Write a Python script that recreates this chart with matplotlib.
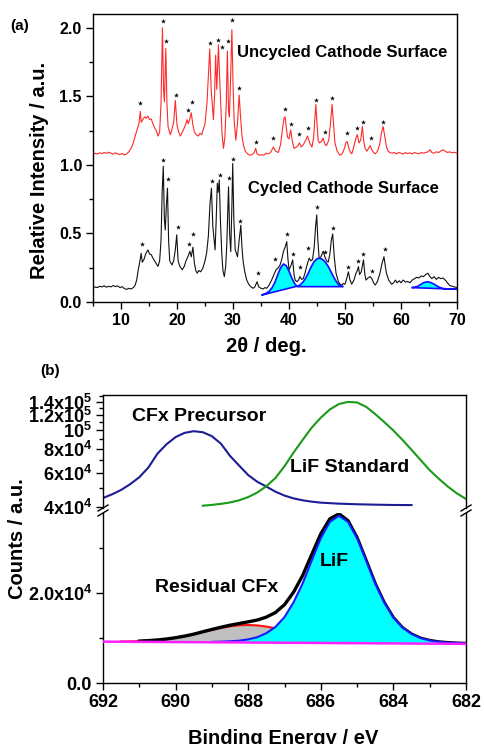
import numpy as np
import matplotlib
matplotlib.use('Agg')
import matplotlib.pyplot as plt
from matplotlib.lines import Line2D
from matplotlib.ticker import FixedLocator, FixedFormatter, NullFormatter

# ---------------- DATA : panel (a) XRD ----------------
tt_uncycled = [5.0, 5.4, 5.8, 6.2, 6.6, 7.0, 7.4, 7.8, 8.2, 8.6, 9.0, 9.4, 9.8, 10.2, 10.6, 11.0, 11.4, 11.8,
               12.2, 12.6, 12.9, 13.2, 13.45, 13.6, 13.9, 14.2, 14.5, 14.8, 15.1, 15.4, 15.7, 16.0, 16.3, 16.6,
               16.9, 17.15, 17.4, 17.6, 17.75, 18.0, 18.2, 18.4, 18.6, 18.8, 19.1, 19.4, 19.7, 20.0, 20.3, 20.6,
               20.9, 21.2, 21.5, 21.8, 22.0, 22.2, 22.55, 22.8, 23.1, 23.45, 23.8, 24.1, 24.4, 24.7, 25.0, 25.35,
               25.6, 25.85, 26.1, 26.5, 26.7, 26.9, 27.1, 27.4, 27.6, 27.8, 28.05, 28.3, 28.55, 28.8, 29.0, 29.2,
               29.35, 29.55, 29.8, 30.0, 30.2, 30.5, 30.8, 31.1, 31.35, 31.6, 31.9, 32.2, 32.6, 33.0, 33.4, 33.8,
               34.05, 34.3, 34.7, 35.1, 35.5, 35.9, 36.3, 36.7, 37.2, 37.6, 38.1, 38.5, 38.8, 39.1, 39.3, 39.55,
               39.75, 40.0, 40.3, 40.6, 40.9, 41.3, 41.6, 41.85, 42.2, 42.6, 43.0, 43.3, 43.7, 44.1, 44.4, 44.6,
               44.8, 45.0, 45.2, 45.4, 45.8, 46.1, 46.4, 46.7, 47.1, 47.4, 47.7, 47.95, 48.2, 48.6, 49.1, 49.5,
               49.9, 50.15, 50.4, 50.7, 51.0, 51.2, 51.5, 51.8, 51.95, 52.2, 52.5, 52.8, 53.1, 53.35, 53.6, 53.9,
               54.2, 54.5, 54.8, 55.1, 55.4, 55.8, 56.2, 56.5, 56.8, 57.1, 57.4, 57.7, 58.0, 58.4, 58.8, 59.2,
               59.6, 60.0, 60.4, 60.8, 61.2, 61.6, 62.0, 62.4, 62.8, 63.2, 63.6, 64.0, 64.4, 64.8, 65.2, 65.5,
               65.9, 66.3, 66.7, 67.1, 67.5, 67.9, 68.3, 68.7, 69.1, 69.5, 70.0]
int_uncycled = [1.075, 1.085, 1.078, 1.088, 1.082, 1.09, 1.084, 1.092, 1.085, 1.078, 1.088, 1.08, 1.075, 1.083,
                1.072, 1.08, 1.095, 1.12, 1.16, 1.22, 1.26, 1.30, 1.39, 1.31, 1.33, 1.35, 1.34, 1.355, 1.33, 1.335,
                1.30, 1.27, 1.25, 1.21, 1.24, 1.45, 2.0, 1.55, 1.46, 1.85, 1.45, 1.28, 1.25, 1.22, 1.26, 1.31, 1.47,
                1.29, 1.24, 1.21, 1.235, 1.26, 1.29, 1.33, 1.30, 1.32, 1.38, 1.30, 1.24, 1.22, 1.21, 1.23, 1.22,
                1.26, 1.30, 1.45, 1.65, 1.845, 1.55, 1.33, 1.50, 1.80, 1.55, 1.875, 1.65, 1.45, 1.22, 1.12, 1.20,
                1.45, 1.83, 1.40, 1.35, 1.60, 1.985, 1.60, 1.33, 1.18, 1.30, 1.51, 1.35, 1.21, 1.14, 1.10, 1.08,
                1.07, 1.075, 1.09, 1.12, 1.08, 1.07, 1.075, 1.07, 1.085, 1.08, 1.09, 1.13, 1.10, 1.09, 1.15, 1.25,
                1.34, 1.35, 1.26, 1.20, 1.19, 1.255, 1.17, 1.12, 1.13, 1.14, 1.16, 1.13, 1.15, 1.18, 1.21, 1.16,
                1.13, 1.20, 1.33, 1.44, 1.30, 1.18, 1.16, 1.17, 1.195, 1.15, 1.14, 1.18, 1.30, 1.44, 1.30, 1.16,
                1.10, 1.07, 1.08, 1.12, 1.16, 1.17, 1.12, 1.09, 1.08, 1.12, 1.17, 1.195, 1.22, 1.16, 1.18, 1.28,
                1.17, 1.12, 1.10, 1.12, 1.14, 1.11, 1.09, 1.08, 1.10, 1.15, 1.23, 1.28, 1.21, 1.13, 1.10, 1.09,
                1.085, 1.09, 1.08, 1.09, 1.085, 1.078, 1.09, 1.082, 1.088, 1.08, 1.09, 1.085, 1.08, 1.09, 1.085,
                1.09, 1.095, 1.11, 1.09, 1.085, 1.095, 1.09, 1.10, 1.11, 1.10, 1.09, 1.095, 1.088, 1.092, 1.085]

tt_cycled = [5.0, 5.4, 5.8, 6.2, 6.6, 7.0, 7.4, 7.8, 8.2, 8.6, 9.0, 9.4, 9.8, 10.2, 10.6, 11.0, 11.4, 11.8, 12.2,
             12.5, 12.8, 13.1, 13.3, 13.6, 13.8, 14.1, 14.4, 14.8, 15.1, 15.4, 15.7, 16.0, 16.3, 16.6, 16.9, 17.15,
             17.35, 17.55, 17.75, 17.9, 18.1, 18.3, 18.5, 18.7, 18.9, 19.1, 19.4, 19.7, 19.95, 20.2, 20.5, 20.95,
             21.3, 21.6, 21.95, 22.3, 22.55, 22.85, 23.1, 23.35, 23.6, 23.9, 24.2, 24.6, 25.0, 25.3, 25.6, 25.9,
             26.15, 26.4, 26.8, 27.0, 27.2, 27.35, 27.55, 27.75, 28.0, 28.2, 28.45, 28.7, 28.9, 29.2, 29.4, 29.6,
             29.8, 29.95, 30.15, 30.4, 30.8, 31.1, 31.4, 31.6, 31.8, 32.1, 32.45, 32.8, 33.2, 33.6, 33.9, 34.3,
             34.6, 35.0, 35.4, 35.7, 36.0, 36.4, 36.9, 37.3, 37.7, 38.1, 38.4, 38.7, 39.0, 39.3, 39.6, 39.8, 40.0,
             40.3, 40.66, 40.9, 41.1, 41.4, 41.7, 41.95, 42.25, 42.55, 42.85, 43.15, 43.6, 43.9, 44.2, 44.5, 44.75,
             44.95, 45.15, 45.4, 45.7, 46.1, 46.4, 46.7, 47.0, 47.3, 47.55, 47.8, 48.1, 48.4, 48.8, 49.1, 49.4,
             49.7, 50.0, 50.3, 50.6, 50.9, 51.2, 51.6, 51.96, 52.2, 52.4, 52.6, 52.9, 53.3, 53.55, 53.75, 54.1,
             54.5, 54.8, 55.1, 55.4, 55.8, 56.25, 56.6, 56.96, 57.2, 57.4, 57.8, 58.3, 58.7, 59.0, 59.3, 59.7,
             60.0, 60.4, 60.8, 61.2, 61.6, 62.0, 62.4, 62.8, 63.2, 63.6, 64.0, 64.4, 64.8, 65.1, 65.5, 65.9, 66.3,
             66.7, 67.1, 67.5, 67.9, 68.3, 68.7, 69.1, 69.5, 70.0]
int_cycled = [0.10, 0.11, 0.105, 0.115, 0.11, 0.118, 0.108, 0.115, 0.11, 0.12, 0.112, 0.118, 0.105, 0.112, 0.098,
              0.092, 0.10, 0.095, 0.105, 0.12, 0.16, 0.24, 0.28, 0.355, 0.29, 0.31, 0.35, 0.38, 0.35, 0.345, 0.32,
              0.30, 0.28, 0.26, 0.30, 0.45, 0.80, 0.99, 0.60, 0.525, 0.70, 0.83, 0.45, 0.30, 0.285, 0.27, 0.30,
              0.38, 0.49, 0.30, 0.26, 0.235, 0.26, 0.30, 0.33, 0.37, 0.33, 0.40, 0.285, 0.23, 0.21, 0.23, 0.22,
              0.245, 0.30, 0.36, 0.48, 0.72, 0.83, 0.55, 0.38, 0.60, 0.866, 0.80, 0.89, 0.60, 0.35, 0.23, 0.185,
              0.26, 0.43, 0.84, 0.50, 0.367, 0.70, 1.01, 0.60, 0.38, 0.33, 0.45, 0.56, 0.40, 0.30, 0.22, 0.16,
              0.13, 0.11, 0.10, 0.11, 0.148, 0.11, 0.10, 0.095, 0.105, 0.10, 0.12, 0.16, 0.20, 0.235, 0.25, 0.27,
              0.31, 0.367, 0.40, 0.44, 0.32, 0.235, 0.26, 0.307, 0.20, 0.16, 0.148, 0.16, 0.185, 0.165, 0.17,
              0.21, 0.26, 0.32, 0.30, 0.31, 0.40, 0.55, 0.635, 0.45, 0.31, 0.33, 0.37, 0.33, 0.30, 0.29, 0.35,
              0.45, 0.496, 0.32, 0.21, 0.15, 0.13, 0.124, 0.135, 0.13, 0.17, 0.22, 0.16, 0.13, 0.16, 0.21, 0.23,
              0.258, 0.20, 0.22, 0.307, 0.20, 0.16, 0.175, 0.185, 0.17, 0.14, 0.124, 0.15, 0.21, 0.28, 0.33, 0.26,
              0.21, 0.16, 0.13, 0.14, 0.16, 0.14, 0.155, 0.14, 0.16, 0.145, 0.15, 0.14, 0.16, 0.17, 0.18, 0.175,
              0.19, 0.185, 0.20, 0.21, 0.19, 0.17, 0.185, 0.165, 0.18, 0.17, 0.175, 0.16, 0.14, 0.12, 0.115, 0.11,
              0.105]

stars_unc_x = [13.39, 17.44, 18.04, 19.79, 21.9, 22.62, 25.9, 27.27, 28.1, 29.05, 29.77, 31.13, 34.05, 37.2,
               39.23, 40.41, 41.84, 43.39, 44.82, 46.37, 47.73, 50.31, 52.09, 53.16, 54.59, 56.84]
stars_unc_y = [1.45, 2.046, 1.903, 1.506, 1.401, 1.455, 1.888, 1.912, 1.856, 1.905, 2.053, 1.56, 1.17, 1.195,
               1.409, 1.30, 1.224, 1.27, 1.474, 1.236, 1.491, 1.231, 1.268, 1.316, 1.195, 1.312]
stars_cyc_x = [13.7, 17.55, 18.34, 20.1, 22.2, 22.9, 26.2, 27.68, 29.34, 30.05, 31.25, 34.4, 37.5, 39.6, 40.66,
               41.96, 43.45, 45.0, 46.5, 47.8, 50.6, 52.3, 53.3, 54.8, 57.1]
stars_cyc_y = [0.421, 1.036, 0.896, 0.55, 0.423, 0.496, 0.883, 0.927, 0.903, 1.044, 0.593, 0.209, 0.314, 0.494,
               0.35, 0.253, 0.392, 0.691, 0.367, 0.542, 0.258, 0.301, 0.35, 0.228, 0.387]

# shaded (cyan) peaks on the cycled pattern: outline points, first/last lie on the peak baseline
peak1_x = [35.1, 36.0, 36.5, 37.0, 37.5, 38.0, 38.5, 39.0, 39.5, 40.0, 40.5, 41.0, 41.4]
peak1_y = [0.05, 0.065, 0.08, 0.105, 0.145, 0.20, 0.25, 0.277, 0.265, 0.225, 0.175, 0.135, 0.115]
peak2_x = [41.4, 42.0, 42.5, 43.0, 43.5, 44.0, 44.5, 45.0, 45.4, 46.0, 46.5, 47.0, 47.5, 48.0, 48.5, 49.0, 49.7]
peak2_y = [0.112, 0.125, 0.145, 0.175, 0.215, 0.26, 0.295, 0.315, 0.32, 0.31, 0.29, 0.26, 0.22, 0.18, 0.145,
           0.122, 0.112]
peak3_x = [61.9, 62.5, 63.0, 63.5, 64.0, 64.7, 65.3, 66.0, 66.5, 67.0, 67.5, 68.5, 70.0]
peak3_y = [0.105, 0.108, 0.115, 0.127, 0.14, 0.148, 0.142, 0.128, 0.115, 0.105, 0.098, 0.095, 0.093]

# ---------------- DATA : panel (b) XPS ----------------
# upper (log) part
cfx_prec_E = [692.0, 691.75, 691.5, 691.25, 691.0, 690.75, 690.5, 690.25, 690.0, 689.75, 689.5, 689.25, 689.0,
              688.75, 688.5, 688.25, 688.0, 687.75, 687.5, 687.25, 687.0, 686.75, 686.5, 686.25, 686.0, 685.5,
              685.0, 684.5, 684.0, 683.5]
cfx_prec_I = [44500, 46500, 49000, 52500, 57000, 64000, 75500, 84500, 92000, 96800, 98700, 97500, 93000, 85000,
              73500, 65500, 58500, 54000, 51000, 48000, 45800, 44300, 43300, 42600, 42100, 41600, 41300, 41100,
              40950, 40900]
lif_std_E = [689.25, 689.0, 688.75, 688.5, 688.25, 688.0, 687.75, 687.5, 687.25, 687.0, 686.75, 686.5, 686.25,
             686.0, 685.75, 685.5, 685.25, 685.0, 684.75, 684.5, 684.25, 684.0, 683.75, 683.5, 683.25, 683.0,
             682.75, 682.5, 682.25, 682.0]
lif_std_I = [40600, 41000, 41500, 42200, 43300, 45000, 47500, 51200, 56500, 65000, 76500, 89000, 103000, 116000,
             128000, 136500, 140000, 139000, 132000, 121000, 110000, 99500, 89000, 79000, 70000, 62000, 56000,
             51000, 47000, 44000]

# lower (linear) part
base_E = [682.0, 692.0]
base_I = [8700, 9200]
env_E = [691.0, 690.75, 690.5, 690.25, 690.0, 689.75, 689.5, 689.25, 689.0, 688.75, 688.5, 688.25, 688.0, 687.75,
         687.5, 687.25, 687.0, 686.75, 686.5, 686.25, 686.0, 685.75, 685.5, 685.25, 685.0, 684.75, 684.5, 684.25,
         684.0, 683.75, 683.5, 683.25, 683.0, 682.75, 682.5, 682.25, 682.0]
env_I = [9320, 9420, 9570, 9780, 10070, 10430, 10860, 11400, 11910, 12400, 12850, 13230, 13600, 14000, 14650,
         15670, 17410, 20200, 23910, 28560, 33170, 36510, 37620, 36090, 32320, 27240, 22080, 17840, 14520, 12290,
         10880, 9960, 9450, 9140, 8975, 8860, 8800]
lif_E = [689.0, 688.75, 688.5, 688.25, 688.0, 687.75, 687.5, 687.25, 687.0, 686.75, 686.5, 686.25, 686.0, 685.75,
         685.5, 685.25, 685.0, 684.75, 684.5, 684.25, 684.0, 683.75, 683.5, 683.25, 683.0, 682.75, 682.5, 682.25,
         682.0]
lif_I = [9150, 9190, 9275, 9410, 9700, 10190, 11080, 12460, 14650, 17940, 22130, 27210, 32200, 35840, 37180,
         35810, 32150, 27140, 22030, 17810, 14500, 12290, 10880, 9960, 9450, 9140, 8975, 8860, 8800]
res_E = [691.5, 691.25, 691.0, 690.75, 690.5, 690.25, 690.0, 689.75, 689.5, 689.25, 689.0, 688.75, 688.5, 688.25,
         688.0, 687.75, 687.5, 687.25, 687.0, 686.75, 686.5, 686.25, 686.0]
res_I = [9230, 9260, 9320, 9420, 9570, 9780, 10070, 10430, 10860, 11330, 11810, 12250, 12600, 12830, 12900,
         12800, 12550, 12170, 11710, 11200, 10710, 10260, 9870]

# ---------------- STYLE ----------------
plt.rcParams['font.family'] = ['Liberation Sans', 'DejaVu Sans']
plt.rcParams['font.weight'] = 'bold'
plt.rcParams['mathtext.fontset'] = 'custom'
plt.rcParams['mathtext.rm'] = 'Liberation Sans:bold'
plt.rcParams['mathtext.bf'] = 'Liberation Sans:bold'
plt.rcParams['mathtext.it'] = 'Liberation Sans:bold'
plt.rcParams['axes.linewidth'] = 1.0

W, H = 484, 744
fig = plt.figure(figsize=(W / 100, H / 100), dpi=100)


def fx(p):
    return p / W


def fy(p):
    return 1 - p / H


def rect(l, t, r, b):
    return [fx(l), fy(b), fx(r) - fx(l), fy(t) - fy(b)]


def style_ticks(ax, size):
    ax.tick_params(which='both', direction='out', top=False, right=False, width=1.0, labelsize=size, pad=3)
    ax.tick_params(which='major', length=5)
    ax.tick_params(which='minor', length=3)


# ---------------- PANEL (a) ----------------
ax = fig.add_axes(rect(93, 14, 457, 302))
ax.plot(tt_uncycled, int_uncycled, color='#ff2a2a', lw=0.8, zorder=2)
ax.plot(tt_cycled, int_cycled, color='#111111', lw=0.8, zorder=2)
for px_, py_ in [(peak1_x, peak1_y), (peak2_x, peak2_y), (peak3_x, peak3_y)]:
    ax.fill(px_, py_, facecolor='#00ffff', edgecolor='#1010ff', lw=1.2, zorder=3)
ax.scatter(stars_unc_x, stars_unc_y, marker='*', s=14, color='black', lw=0, zorder=4)
ax.scatter(stars_cyc_x, stars_cyc_y, marker='*', s=14, color='black', lw=0, zorder=4)
ax.set_xlim(5, 70)
ax.set_ylim(0, 2.1)
ax.xaxis.set_major_locator(FixedLocator([10, 20, 30, 40, 50, 60, 70]))
ax.xaxis.set_minor_locator(FixedLocator([5, 15, 25, 35, 45, 55, 65]))
ax.yaxis.set_major_locator(FixedLocator([0, 0.5, 1.0, 1.5, 2.0]))
ax.yaxis.set_major_formatter(FixedFormatter(['0.0', '0.5', '1.0', '1.5', '2.0']))
ax.yaxis.set_minor_locator(FixedLocator([0.25, 0.75, 1.25, 1.75]))
style_ticks(ax, 11.5)
for t in ax.get_xticklabels() + ax.get_yticklabels():
    t.set_fontweight('bold')

fig.text(fx(237), fy(53), 'Uncycled Cathode Surface', fontsize=12, fontweight='bold', ha='left', va='center')
fig.text(fx(248), fy(188), 'Cycled Cathode Surface', fontsize=12, fontweight='bold', ha='left', va='center')
fig.text(fx(10), fy(26), '(a)', fontsize=11, fontweight='bold', ha='left', va='center')
fig.text(fx(40), fy(170), 'Relative Intensity / a.u.', fontsize=14.5, fontweight='bold', rotation=90,
         ha='center', va='center')
fig.text(fx(266), fy(347), '2\u03b8 / deg.', fontsize=14.5, fontweight='bold', ha='center', va='center')

# ---------------- PANEL (b) ----------------
fig.text(fx(40), fy(371), '(b)', fontsize=11, fontweight='bold', ha='left', va='center')

axu = fig.add_axes(rect(103, 395, 466, 508))
axl = fig.add_axes(rect(103, 513, 466, 683))

axu.plot(cfx_prec_E, cfx_prec_I, color='#1c1c94', lw=1.5)
axu.plot(lif_std_E, lif_std_I, color='#1a991a', lw=1.5)
axu.set_yscale('log')
axu.set_xlim(692, 682)
axu.set_ylim(3.95e4, 1.52e5)
axu.yaxis.set_major_locator(FixedLocator([4e4, 6e4, 8e4, 1e5, 1.2e5, 1.4e5]))
axu.yaxis.set_major_formatter(FixedFormatter([r'$\mathbf{4x10^{4}}$', r'$\mathbf{6x10^{4}}$',
                                              r'$\mathbf{8x10^{4}}$', r'$\mathbf{10^{5}}$',
                                              r'$\mathbf{1.2x10^{5}}$', r'$\mathbf{1.4x10^{5}}$']))
axu.yaxis.set_minor_locator(FixedLocator([5e4, 7e4, 9e4, 1.1e5, 1.3e5, 1.5e5]))
axu.yaxis.set_minor_formatter(NullFormatter())
axu.set_xticks([])
axu.spines['bottom'].set_visible(False)
style_ticks(axu, 13)

base_at_res = np.interp(res_E[::-1], base_E, base_I)[::-1]
base_at_lif = np.interp(lif_E[::-1], base_E, base_I)[::-1]
axl.fill_between(res_E, res_I, base_at_res, color='#c0c0c0', lw=0, zorder=1)
axl.plot(res_E, res_I, color='#ff1010', lw=1.5, zorder=2)
axl.plot(env_E, env_I, color='black', lw=2.4, zorder=3)
axl.fill_between(lif_E, lif_I, base_at_lif, color='#00ffff', lw=0, zorder=4)
axl.plot(lif_E, lif_I, color='#1a1aff', lw=1.5, zorder=5)
axl.plot(base_E, base_I, color='#ff20ff', lw=1.8, zorder=6)
axl.set_xlim(692, 682)
axl.set_ylim(0, 3.78e4)
axl.xaxis.set_major_locator(FixedLocator([692, 690, 688, 686, 684, 682]))
axl.xaxis.set_minor_locator(FixedLocator([691, 689, 687, 685, 683]))
axl.yaxis.set_major_locator(FixedLocator([0, 2e4]))
axl.yaxis.set_major_formatter(FixedFormatter(['0.0', r'$\mathbf{2.0x10^{4}}$']))
axl.yaxis.set_minor_locator(FixedLocator([1e4, 3e4]))
axl.spines['top'].set_visible(False)
style_ticks(axl, 13)
for t in axl.get_xticklabels() + axl.get_yticklabels():
    t.set_fontweight('bold')

# axis break marks
for xp in (103, 466):
    for yp in (508, 513):
        fig.add_artist(Line2D([fx(xp - 5), fx(xp + 5)], [fy(yp + 3), fy(yp - 3)], color='black', lw=1.0))

fig.text(fx(132), fy(417), 'CFx Precursor', fontsize=14, fontweight='bold', ha='left', va='center')
fig.text(fx(290), fy(468), 'LiF Standard', fontsize=14, fontweight='bold', ha='left', va='center')
fig.text(fx(155), fy(588), 'Residual CFx', fontsize=14, fontweight='bold', ha='left', va='center')
fig.text(fx(320), fy(562), 'LiF', fontsize=14, fontweight='bold', ha='left', va='center')
fig.text(fx(18), fy(539), 'Counts / a.u.', fontsize=14.5, fontweight='bold', rotation=90,
         ha='center', va='center')
fig.text(fx(283), fy(744), 'Binding Energy / eV', fontsize=14.5, fontweight='bold', ha='center', va='baseline')

fig.savefig('out.png', dpi=100)
